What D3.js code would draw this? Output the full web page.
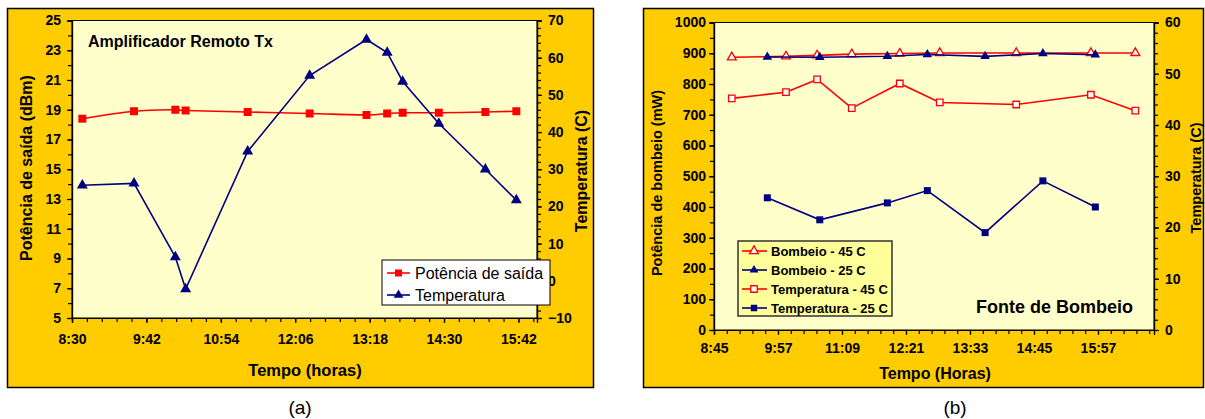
<!DOCTYPE html>
<html>
<head>
<meta charset="utf-8">
<script src="https://cdn.jsdelivr.net/npm/d3@7"></script>
<style>
  html, body { margin: 0; padding: 0; background: #ffffff; }
  svg { display: block; }
  text { font-family: Arial, "Liberation Sans", sans-serif; }
</style>
</head>
<body>
<svg id="chart" width="1205" height="419"></svg>
<script>
// ---- (a) Amplificador Remoto Tx ----
const timesA = ["8:40","9:30","10:10","10:20","11:20","12:20","13:15","13:35","13:50","14:25","15:10","15:40"];
const potenciaSaida = [18.4, 18.9, 19.0, 18.95, 18.85, 18.75, 18.65, 18.75, 18.8, 18.8, 18.85, 18.9];
const temperaturaA = [25.7, 26.2, 6.4, -2.2, 34.8, 55.2, 64.9, 61.4, 53.6, 42.3, 30.0, 21.7];
const xTicksA = ["8:30","9:42","10:54","12:06","13:18","14:30","15:42"];
const yTicksA = [5, 7, 9, 11, 13, 15, 17, 19, 21, 23, 25];
const y2TicksA = [-10, 0, 10, 20, 30, 40, 50, 60, 70];

// ---- (b) Fonte de Bombeio ----
const times45 = ["9:05","10:06","10:41","11:20","12:14","12:59","14:25","15:49","16:39"];
const bombeio45 = [887, 890, 893, 897, 899, 901, 901, 901, 901];
const temperatura45 = [45.2, 46.4, 48.9, 43.3, 48.1, 44.4, 44.0, 45.9, 42.8];
const times25 = ["9:45","10:44","12:00","12:45","13:50","14:55","15:54"];
const bombeio25 = [888, 887, 890, 896, 890, 899, 895];
const temperatura25 = [25.8, 21.5, 24.8, 27.2, 19.0, 29.1, 24.0];
const xTicksB = ["8:45","9:57","11:09","12:21","13:33","14:45","15:57"];
const yTicksB = [0, 100, 200, 300, 400, 500, 600, 700, 800, 900, 1000];
const y2TicksB = [0, 10, 20, 30, 40, 50, 60];

const GOLD = "#FFCC00", PLOT = "#FFFFCC", RED = "#FF0000", NAVY = "#000080";
const TICK_FONT = 14;
const toMin = s => { const [h, m] = s.split(":").map(Number); return h * 60 + m; };
const fmtMin = m => Math.floor(m / 60) + ":" + String(Math.round(m % 60)).padStart(2, "0");

const svg = d3.select("#chart");

function frame(box, plot) {
  svg.append("rect").attr("x", box.x).attr("y", box.y).attr("width", box.w).attr("height", box.h)
    .attr("fill", GOLD).attr("stroke", "#000").attr("stroke-width", 1.5);
  svg.append("rect").attr("x", plot.x0).attr("y", plot.y0)
    .attr("width", plot.x1 - plot.x0).attr("height", plot.y1 - plot.y0)
    .attr("fill", PLOT).attr("stroke", "#000").attr("stroke-width", 1);
}

function styleAxis(g) {
  g.selectAll("path").attr("stroke", "#000").attr("stroke-width", 1.2);
  g.selectAll("line").attr("stroke", "#000").attr("stroke-width", 1.2);
  g.selectAll("text").attr("font-size", TICK_FONT).attr("font-weight", "bold").attr("fill", "#000")
    .attr("font-family", "Arial, 'Liberation Sans', sans-serif");
}

function axes(o) {
  // minor ticks
  svg.append("g").attr("transform", `translate(0,${o.plot.y1})`)
    .call(d3.axisBottom(o.x).tickValues(d3.range(o.x.domain()[0], o.x.domain()[1] + 0.01, 14.4)).tickSize(4).tickFormat(""))
    .call(styleAxis);
  svg.append("g").attr("transform", `translate(${o.plot.x0},0)`)
    .call(d3.axisLeft(o.y).tickValues(d3.range(o.y.domain()[0], o.y.domain()[1] + 1e-6, o.yMinor)).tickSize(4).tickFormat(""))
    .call(styleAxis);
  svg.append("g").attr("transform", `translate(${o.plot.x1},0)`)
    .call(d3.axisRight(o.y2).tickValues(d3.range(o.y2.domain()[0], o.y2.domain()[1] + 1e-6, o.y2Minor)).tickSize(4).tickFormat(""))
    .call(styleAxis);
  // major ticks and labels
  svg.append("g").attr("transform", `translate(0,${o.plot.y1})`)
    .call(d3.axisBottom(o.x).tickValues(o.xTicks.map(toMin)).tickFormat(fmtMin).tickSize(5).tickPadding(o.xPad))
    .call(styleAxis);
  svg.append("g").attr("transform", `translate(${o.plot.x0},0)`)
    .call(d3.axisLeft(o.y).tickValues(o.yTicks).tickFormat(d3.format("d")).tickSize(5).tickPadding(o.yPad))
    .call(styleAxis);
  svg.append("g").attr("transform", `translate(${o.plot.x1},0)`)
    .call(d3.axisRight(o.y2).tickValues(o.y2Ticks).tickFormat(d3.format("d")).tickSize(5).tickPadding(o.y2Pad))
    .call(styleAxis);
}

function vTitle(x, y, txt, size) {
  svg.append("text").attr("transform", `translate(${x},${y}) rotate(-90)`)
    .attr("text-anchor", "middle").attr("font-size", size).attr("font-weight", "bold").text(txt);
}

function drawSeries(xs, ys, x, y, color, curve, sym, symSize, fill, strokeW) {
  const pts = xs.map((t, i) => [x(toMin(t)), y(ys[i])]);
  svg.append("path").attr("d", d3.line().curve(curve)(pts))
    .attr("fill", "none").attr("stroke", color).attr("stroke-width", 1.6);
  svg.append("g").selectAll("path").data(pts).join("path")
    .attr("transform", d => `translate(${d[0]},${d[1]})`)
    .attr("d", d3.symbol().type(sym).size(symSize))
    .attr("fill", fill).attr("stroke", color).attr("stroke-width", strokeW);
}

// ================= Panel (a) =================
{
  const plot = { x0: 72, x1: 537, y0: 20.5, y1: 318 };
  frame({ x: 7.5, y: 8.5, w: 586, h: 379 }, plot);
  const x = d3.scaleLinear().domain([toMin("8:30"), toMin("16:00")]).range([plot.x0, plot.x1]);
  const y = d3.scaleLinear().domain([5, 25]).range([plot.y1, plot.y0]);
  const y2 = d3.scaleLinear().domain([-10, 70]).range([plot.y1, plot.y0]);
  axes({ plot, x, y, y2, xTicks: xTicksA, yTicks: yTicksA, y2Ticks: y2TicksA, yMinor: 1, y2Minor: 2,
         xPad: 11, yPad: 6, y2Pad: 6 });

  drawSeries(timesA, potenciaSaida, x, y, RED, d3.curveCatmullRom.alpha(0), d3.symbolSquare, 64, RED, 0);
  drawSeries(timesA, temperaturaA, x, y2, NAVY, d3.curveLinear, d3.symbolTriangle, 52, NAVY, 0);

  svg.append("text").attr("x", 88).attr("y", 47).attr("font-size", 16).attr("font-weight", "bold")
    .text("Amplificador Remoto Tx");
  vTitle(32, 168, "Potência de saída (dBm)", 16);
  vTitle(587, 171, "Temperatura (C)", 16);
  svg.append("text").attr("x", 305).attr("y", 376).attr("text-anchor", "middle")
    .attr("font-size", 16.5).attr("font-weight", "bold").text("Tempo (horas)");

  // legend
  const lg = svg.append("g").attr("transform", "translate(382,260)");
  lg.append("rect").attr("width", 168).attr("height", 45).attr("fill", "#fff").attr("stroke", "#000").attr("stroke-width", 1);
  const itemsA = [["Potência de saída", RED, d3.symbolSquare, 50], ["Temperatura", NAVY, d3.symbolTriangle, 40]];
  itemsA.forEach((it, i) => {
    const cy = 13 + i * 22;
    lg.append("line").attr("x1", 5).attr("x2", 28).attr("y1", cy).attr("y2", cy).attr("stroke", it[1]).attr("stroke-width", 1.6);
    lg.append("path").attr("transform", `translate(16.5,${cy})`).attr("d", d3.symbol().type(it[2]).size(it[3])).attr("fill", it[1]);
    lg.append("text").attr("x", 33).attr("y", cy + 5.5).attr("font-size", 16).text(it[0]);
  });

  svg.append("text").attr("x", 300).attr("y", 414).attr("text-anchor", "middle").attr("font-size", 19).text("(a)");
}

// ================= Panel (b) =================
{
  const plot = { x0: 714, x1: 1154, y0: 22.5, y1: 330 };
  frame({ x: 643.5, y: 8.5, w: 560, h: 379 }, plot);
  const x = d3.scaleLinear().domain([toMin("8:45"), toMin("17:00")]).range([plot.x0, plot.x1]);
  const y = d3.scaleLinear().domain([0, 1000]).range([plot.y1, plot.y0]);
  const y2 = d3.scaleLinear().domain([0, 60]).range([plot.y1, plot.y0]);
  axes({ plot, x, y, y2, xTicks: xTicksB, yTicks: yTicksB, y2Ticks: y2TicksB, yMinor: 50, y2Minor: 2,
         xPad: 8, yPad: 3, y2Pad: 6 });

  drawSeries(times45, temperatura45, x, y2, RED, d3.curveLinear, d3.symbolSquare, 42, "#fff", 1.3);
  drawSeries(times25, temperatura25, x, y2, NAVY, d3.curveLinear, d3.symbolSquare, 49, NAVY, 0);
  drawSeries(times45, bombeio45, x, y, RED, d3.curveLinear, d3.symbolTriangle, 34, "#fff", 1.3);
  drawSeries(times25, bombeio25, x, y, NAVY, d3.curveLinear, d3.symbolTriangle, 40, NAVY, 0);

  vTitle(662, 183, "Potência de bombeio (mW)", 14.5);
  vTitle(1201, 178, "Temperatura (C)", 14.5);
  svg.append("text").attr("x", 935).attr("y", 379).attr("text-anchor", "middle")
    .attr("font-size", 16).attr("font-weight", "bold").text("Tempo (Horas)");
  svg.append("text").attr("x", 1133).attr("y", 313).attr("text-anchor", "end")
    .attr("font-size", 18).attr("font-weight", "bold").text("Fonte de Bombeio");

  // legend
  const lg = svg.append("g").attr("transform", "translate(738,241)");
  lg.append("rect").attr("width", 154).attr("height", 75).attr("fill", "#FFFF99").attr("stroke", "#333").attr("stroke-width", 1.5);
  const itemsB = [
    ["Bombeio - 45 C", RED, d3.symbolTriangle, "#fff", 1.3],
    ["Bombeio - 25 C", NAVY, d3.symbolTriangle, NAVY, 0],
    ["Temperatura - 45 C", RED, d3.symbolSquare, "#fff", 1.3],
    ["Temperatura - 25 C", NAVY, d3.symbolSquare, NAVY, 0]
  ];
  itemsB.forEach((it, i) => {
    const cy = 10 + i * 19;
    lg.append("line").attr("x1", 4).attr("x2", 29).attr("y1", cy).attr("y2", cy).attr("stroke", it[1]).attr("stroke-width", 1.6);
    lg.append("path").attr("transform", `translate(16,${cy})`)
      .attr("d", d3.symbol().type(it[2]).size(it[2] === d3.symbolSquare ? 42 : 34))
      .attr("fill", it[3]).attr("stroke", it[1]).attr("stroke-width", it[4]);
    lg.append("text").attr("x", 33).attr("y", cy + 4.5).attr("font-size", 13).attr("font-weight", "bold").text(it[0]);
  });

  svg.append("text").attr("x", 955).attr("y", 414).attr("text-anchor", "middle").attr("font-size", 19).text("(b)");
}
</script>
</body>
</html>
